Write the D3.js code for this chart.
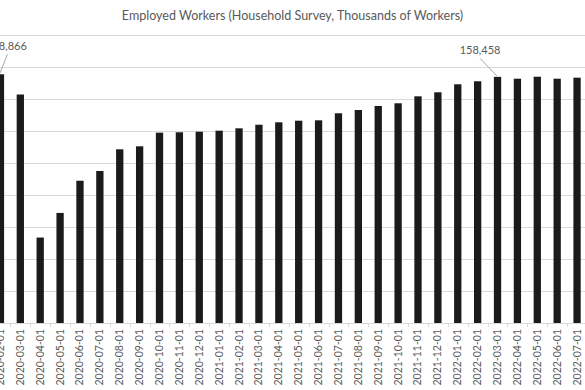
<!DOCTYPE html>
<html><head><meta charset="utf-8">
<script src="https://cdn.jsdelivr.net/npm/d3@7"></script>
<style>html,body{margin:0;padding:0;background:#fff;overflow:hidden}</style>
</head><body>
<svg id="c" width="585" height="390"></svg>
<script>
const categories = ["2020-02-01","2020-03-01","2020-04-01","2020-05-01","2020-06-01","2020-07-01","2020-08-01","2020-09-01","2020-10-01","2020-11-01","2020-12-01","2021-01-01","2021-02-01","2021-03-01","2021-04-01","2021-05-01","2021-06-01","2021-07-01","2021-08-01","2021-09-01","2021-10-01","2021-11-01","2021-12-01","2022-01-01","2022-02-01","2022-03-01","2022-04-01","2022-05-01","2022-06-01","2022-07-01"];
const employed = [158866,155700,133350,137200,142230,143750,147140,147610,149740,149800,149890,150050,150420,150980,151360,151610,151670,152770,153280,153910,154330,155420,156050,157300,157770,158458,158170,158480,158170,158330];
const labelledIdx = [0, 25];
const yTicks = [120000,125000,130000,135000,140000,145000,150000,155000,160000,165000];
const title = "Employed Workers (Household Survey, Thousands of Workers)";

const svg = d3.select("#c");
const x = d3.scaleBand().domain(categories).range([-9.5, 587]).paddingInner(0.633).paddingOuter(0.3165);
const y = d3.scaleLinear().domain([120000, 165000]).range([323, 35]);
const step = x.step();

// gridlines
svg.append("g").selectAll("line").data(yTicks.slice(1)).join("line")
  .attr("x1", 0).attr("x2", 585)
  .attr("y1", d => Math.round(y(d)) + 0.5).attr("y2", d => Math.round(y(d)) + 0.5)
  .attr("stroke", "#d9d9d9").attr("stroke-width", 1);

// bars
svg.append("g").selectAll("rect").data(categories).join("rect")
  .attr("x", d => x(d)).attr("width", x.bandwidth())
  .attr("y", (d, i) => y(employed[i]))
  .attr("height", (d, i) => y(120000) - y(employed[i]))
  .attr("fill", "#1b1b1b");

// x axis line + ticks between bars
const ax = svg.append("g");
ax.append("line").attr("x1", 0).attr("x2", 585)
  .attr("y1", Math.round(y(120000)) + 0.5).attr("y2", Math.round(y(120000)) + 0.5)
  .attr("stroke", "#d9d9d9");
ax.selectAll("line.t").data(categories).join("line").attr("class", "t")
  .attr("x1", d => Math.round(x(d) + x.bandwidth() / 2 - step / 2) + 0.5)
  .attr("x2", d => Math.round(x(d) + x.bandwidth() / 2 - step / 2) + 0.5)
  .attr("y1", y(120000)).attr("y2", y(120000) + 4)
  .attr("stroke", "#d9d9d9");

// x labels
ax.selectAll("text").data(categories).join("text")
  .attr("transform", d => `translate(${x(d) + x.bandwidth() / 2 + 3.5},329) rotate(-90)`)
  .attr("text-anchor", "end")
  .attr("font-family", "Lato, sans-serif").attr("font-size", 10.5)
  .attr("fill", "#595959")
  .text(d => d);

// data labels with leader lines
const labelOffsets = {0: [6, -24], 25: [-17.5, -22.5]};
labelledIdx.forEach(i => {
  const cx = x(categories[i]) + x.bandwidth() / 2;
  const top = y(employed[i]);
  const [dx, dy] = labelOffsets[i];
  svg.append("line")
    .attr("x1", cx + dx + (i === 0 ? 1 : 0)).attr("y1", top + dy + 4)
    .attr("x2", cx + (i === 0 ? -0.5 : -0.7)).attr("y2", top - 1)
    .attr("stroke", "#a6a6a6").attr("stroke-width", 1);
  svg.append("text")
    .attr("x", cx + dx).attr("y", top + dy)
    .attr("text-anchor", "middle")
    .attr("font-family", "Lato, sans-serif").attr("font-size", 11)
    .attr("fill", "#595959")
    .text(d3.format(",")(employed[i]));
});

// title
svg.append("text").attr("x", 292.5).attr("y", 20)
  .attr("text-anchor", "middle")
  .attr("font-family", "Lato, sans-serif").attr("font-size", 12.5)
  .attr("fill", "#595959")
  .text(title);
</script>
</body></html>
